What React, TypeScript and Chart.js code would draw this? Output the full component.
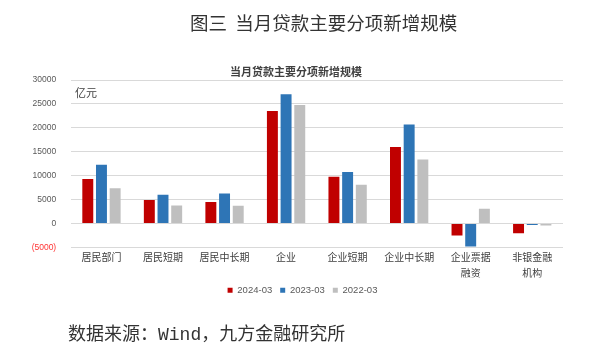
import React, { useEffect, useRef } from "react";
import { Chart, registerables } from "chart.js";

Chart.register(...registerables);

const categories: (string | string[])[] = [
  "居民部门",
  "居民短期",
  "居民中长期",
  "企业",
  "企业短期",
  "企业中长期",
  ["企业票据", "融资"],
  ["非银金融", "机构"],
];
const seriesNames = ["2024-03", "2023-03", "2022-03"];
const values2024 = [9300, 4900, 4500, 23500, 9800, 16000, -2500, -2000];
const values2023 = [12300, 6000, 6300, 27000, 10800, 20700, -4800, -300];
const values2022 = [7400, 3800, 3700, 24800, 8100, 13400, 3100, -400];
const seriesColors = ["#C00000", "#2E75B6", "#BFBFBF"];
const yTicks = { min: -5000, max: 30000, step: 5000 };

const FONT = "'Liberation Sans', 'Noto Sans CJK SC', sans-serif";
const CJK = "'Noto Sans CJK SC', sans-serif";

const legendShift = {
  id: "legendShift",
  afterLayout(chart: any) {
    const l = chart.legend;
    if (l) {
      l.left += 21;
      l.right += 21;
    }
  },
};

export default function App() {
  const ref = useRef<HTMLCanvasElement>(null);
  useEffect(() => {
    if (!ref.current) return;
    const data = [values2024, values2023, values2022];
    const chart = new Chart(ref.current, {
      type: "bar",
      data: {
        labels: categories,
        datasets: seriesNames.map((name, i) => ({
          label: name,
          data: data[i],
          backgroundColor: seriesColors[i],
          categoryPercentage: 0.667,
          barPercentage: 0.8,
        })),
      },
      plugins: [legendShift],
      options: {
        animation: false,
        responsive: false,
        maintainAspectRatio: false,
        layout: { padding: { left: 0, right: 29, top: 80, bottom: 54 } },
        plugins: {
          title: { display: false },
          tooltip: { enabled: false },
          legend: {
            position: "bottom",
            labels: {
              boxWidth: 5,
              boxHeight: 5,
              padding: 8,
              color: "#595959",
              font: { family: FONT, size: 9.5 },
            },
          },
        },
        scales: {
          x: {
            grid: { display: false, drawTicks: false },
            border: { display: false },
            ticks: {
              color: "#404040",
              font: { family: CJK, size: 10, lineHeight: 1.6 },
              padding: 2,
              maxRotation: 0,
              autoSkip: false,
            },
            afterFit: (s: any) => {
              s.height = 30;
            },
          },
          y: {
            min: yTicks.min,
            max: yTicks.max,
            grid: { color: "#D9D9D9", drawTicks: false },
            border: { display: false },
            ticks: {
              stepSize: yTicks.step,
              padding: 14.5,
              font: { family: FONT, size: 8.5 },
              color: (c: any) => (c.tick && c.tick.value < 0 ? "#FF3333" : "#595959"),
              callback: (v: any) => (v < 0 ? `(${-v})` : `${v}`),
            },
            afterFit: (s: any) => {
              s.width = 70.7;
            },
          },
        },
      },
    });
    return () => chart.destroy();
  }, []);

  return (
    <div style={{ position: "absolute", left: 0, top: 0, width: 592, height: 359, background: "#fff", overflow: "hidden" }}>
      <canvas ref={ref} width={592} height={359} style={{ position: "absolute", left: 0, top: 0, width: 592, height: 359 }} />
      <div style={{ position: "absolute", left: 190, top: 9, fontFamily: CJK, fontSize: 18.5, color: "#333", whiteSpace: "pre" }}>
        {"图三  当月贷款主要分项新增规模"}
      </div>
      <div style={{ position: "absolute", left: 0, width: 592, top: 63, textAlign: "center", fontFamily: CJK, fontSize: 11, fontWeight: 700, color: "#404040" }}>
        当月贷款主要分项新增规模
      </div>
      <div style={{ position: "absolute", left: 75, top: 84, fontFamily: CJK, fontSize: 11, color: "#404040" }}>
        亿元
      </div>
      <div style={{ position: "absolute", left: 68, top: 319, fontFamily: CJK, fontSize: 18, color: "#333", whiteSpace: "pre" }}>
        数据来源：<span style={{ fontFamily: "'Liberation Mono', monospace" }}>Wind</span>，九方金融研究所
      </div>
    </div>
  );
}
